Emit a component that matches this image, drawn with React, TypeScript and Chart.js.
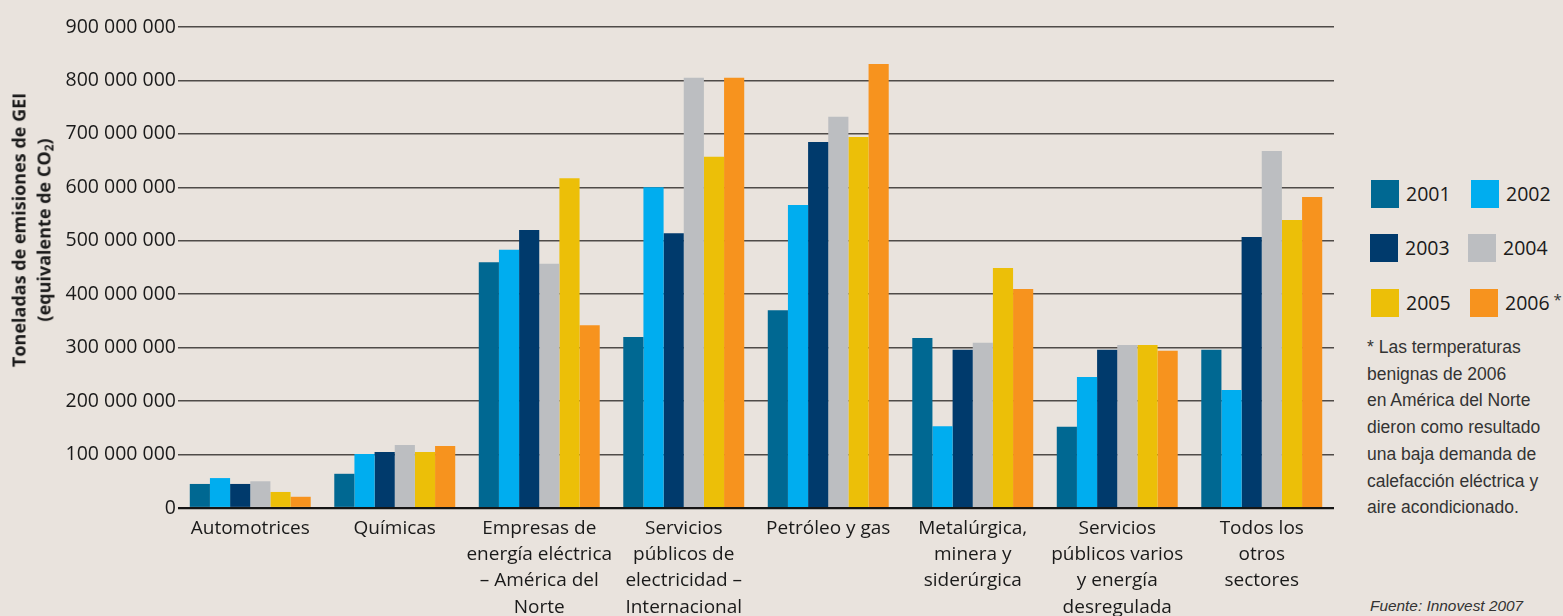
import React, { useEffect, useRef } from "react";
import { Chart, registerables } from "chart.js";

Chart.register(...registerables);

const categories: (string | string[])[] = [
  "Automotrices",
  "Químicas",
  ["Empresas de", "energía eléctrica", "– América del", "Norte"],
  ["Servicios", "públicos de", "electricidad –", "Internacional"],
  "Petróleo y gas",
  ["Metalúrgica,", "minera y", "siderúrgica"],
  ["Servicios", "públicos varios", "y energía", "desregulada"],
  ["Todos los", "otros", "sectores"],
];

const years = ["2001", "2002", "2003", "2004", "2005", "2006"];

const v2001 = [45e6, 64e6, 460e6, 320e6, 370e6, 318e6, 152e6, 296e6];
const v2002 = [56e6, 101e6, 483e6, 600e6, 567e6, 153e6, 245e6, 221e6];
const v2003 = [45e6, 105e6, 520e6, 514e6, 685e6, 296e6, 296e6, 507e6];
const v2004 = [50e6, 118e6, 457e6, 805e6, 732e6, 309e6, 305e6, 668e6];
const v2005 = [30e6, 105e6, 617e6, 657e6, 694e6, 449e6, 305e6, 539e6];
const v2006 = [21e6, 116e6, 342e6, 805e6, 831e6, 410e6, 294e6, 582e6];

const seriesValues = [v2001, v2002, v2003, v2004, v2005, v2006];
const colors = ["#006892", "#00adef", "#003a6c", "#bcbec1", "#ecbf08", "#f7931e"];

const yMax = 900e6;
const yStep = 100e6;

const fmt = (v: number) => String(Math.round(v)).replace(/\B(?=(\d{3})+(?!\d))/g, " ");

const BG = "#e9e3dd";
const TEXT = "#1a1a1a";

export default function App() {
  const ref = useRef<HTMLCanvasElement | null>(null);

  useEffect(() => {
    document.body.style.margin = "0";
    document.body.style.background = BG;
    if (!ref.current) return;
    const chart = new Chart(ref.current, {
      type: "bar",
      data: {
        labels: categories,
        datasets: years.map((y, i) => ({
          label: y,
          data: seriesValues[i],
          backgroundColor: colors[i],
          borderWidth: 0,
          categoryPercentage: 0.837,
          barPercentage: 1,
        })),
      },
      options: {
        animation: false,
        responsive: false,
        maintainAspectRatio: false,
        layout: { padding: { top: 27, right: 6, bottom: 0, left: 0 } },
        plugins: {
          legend: { display: false },
          tooltip: { enabled: false },
        },
        scales: {
          x: {
            grid: { display: false, drawTicks: false },
            border: { display: false },
            ticks: {
              autoSkip: false,
              maxRotation: 0,
              minRotation: 0,
              padding: 8,
              color: TEXT,
              font: { family: "'Open Sans', sans-serif", size: 19, lineHeight: 1.37 },
            },
            afterFit: (s: any) => {
              s.height = 108;
            },
          },
          y: {
            min: 0,
            max: yMax,
            grid: {
              drawTicks: false,
              color: (ctx: any) => (ctx.tick && ctx.tick.value === 0 ? "#151515" : "#4f4b48"),
              lineWidth: (ctx: any) => (ctx.tick && ctx.tick.value === 0 ? 2.2 : 1.6),
            },
            border: { display: false },
            ticks: {
              stepSize: yStep,
              padding: 2,
              color: TEXT,
              font: { family: "'Open Sans', sans-serif", size: 19.5 },
              callback: (v: any) => fmt(Number(v)),
            },
            afterFit: (s: any) => {
              s.width = 178;
            },
          },
        },
      },
    });
    return () => chart.destroy();
  }, []);

  const swatch = (i: number, left: number, top: number, textLeft: number, star = false) => (
    <React.Fragment key={years[i]}>
      <div
        style={{
          position: "absolute",
          left,
          top,
          width: 28,
          height: 28,
          background: colors[i],
        }}
      />
      <div
        style={{
          position: "absolute",
          left: textLeft,
          top: top - 2,
          height: 32,
          lineHeight: "32px",
          fontFamily: "'Open Sans', sans-serif",
          fontSize: 19.5,
          color: TEXT,
          whiteSpace: "nowrap",
        }}
      >
        {years[i]}
        {star ? (
          <span style={{ fontSize: 15, position: "relative", top: -5, marginLeft: 4, color: "#333" }}>*</span>
        ) : null}
      </div>
    </React.Fragment>
  );

  return (
    <div
      style={{
        position: "absolute",
        left: 0,
        top: 0,
        width: 1563,
        height: 616,
        background: BG,
        overflow: "hidden",
      }}
    >
      <canvas ref={ref} width={1340} height={616} style={{ position: "absolute", left: 0, top: 0 }} />
      <div
        style={{
          position: "absolute",
          left: 34,
          top: 230,
          width: 0,
          height: 0,
        }}
      >
        <div
          style={{
            position: "absolute",
            left: 0,
            top: 0,
            transform: "translate(-50%, -50%) rotate(-90deg)",
            fontFamily: "'Open Sans', sans-serif",
            fontWeight: 700,
            fontSize: 18,
            lineHeight: "25px",
            color: TEXT,
            textAlign: "center",
            whiteSpace: "nowrap",
          }}
        >
          <div>Toneladas de emisiones de GEI</div>
          <div>
            (equivalente de CO<sub style={{ fontSize: 12, verticalAlign: "-3px" }}>2</sub>)
          </div>
        </div>
      </div>

      {swatch(0, 1371, 180, 1406)}
      {swatch(1, 1471, 180, 1506)}
      {swatch(2, 1370, 234, 1405)}
      {swatch(3, 1468, 234, 1503)}
      {swatch(4, 1371, 289, 1406)}
      {swatch(5, 1470, 289, 1505, true)}

      <div
        style={{
          position: "absolute",
          left: 1367,
          top: 334,
          fontFamily: "'Liberation Sans', Arial, sans-serif",
          fontSize: 17.5,
          lineHeight: "26.7px",
          color: "#333",
          whiteSpace: "nowrap",
        }}
      >
        <div>* Las termperaturas</div>
        <div>benignas de 2006</div>
        <div>en América del Norte</div>
        <div>dieron como resultado</div>
        <div>una baja demanda de</div>
        <div>calefacción eléctrica y</div>
        <div>aire acondicionado.</div>
      </div>
      <div
        style={{
          position: "absolute",
          left: 1370,
          top: 597,
          fontFamily: "'Liberation Sans', Arial, sans-serif",
          fontStyle: "italic",
          fontSize: 15.4,
          lineHeight: "18px",
          color: "#333",
          whiteSpace: "nowrap",
        }}
      >
        Fuente: Innovest 2007
      </div>
    </div>
  );
}
